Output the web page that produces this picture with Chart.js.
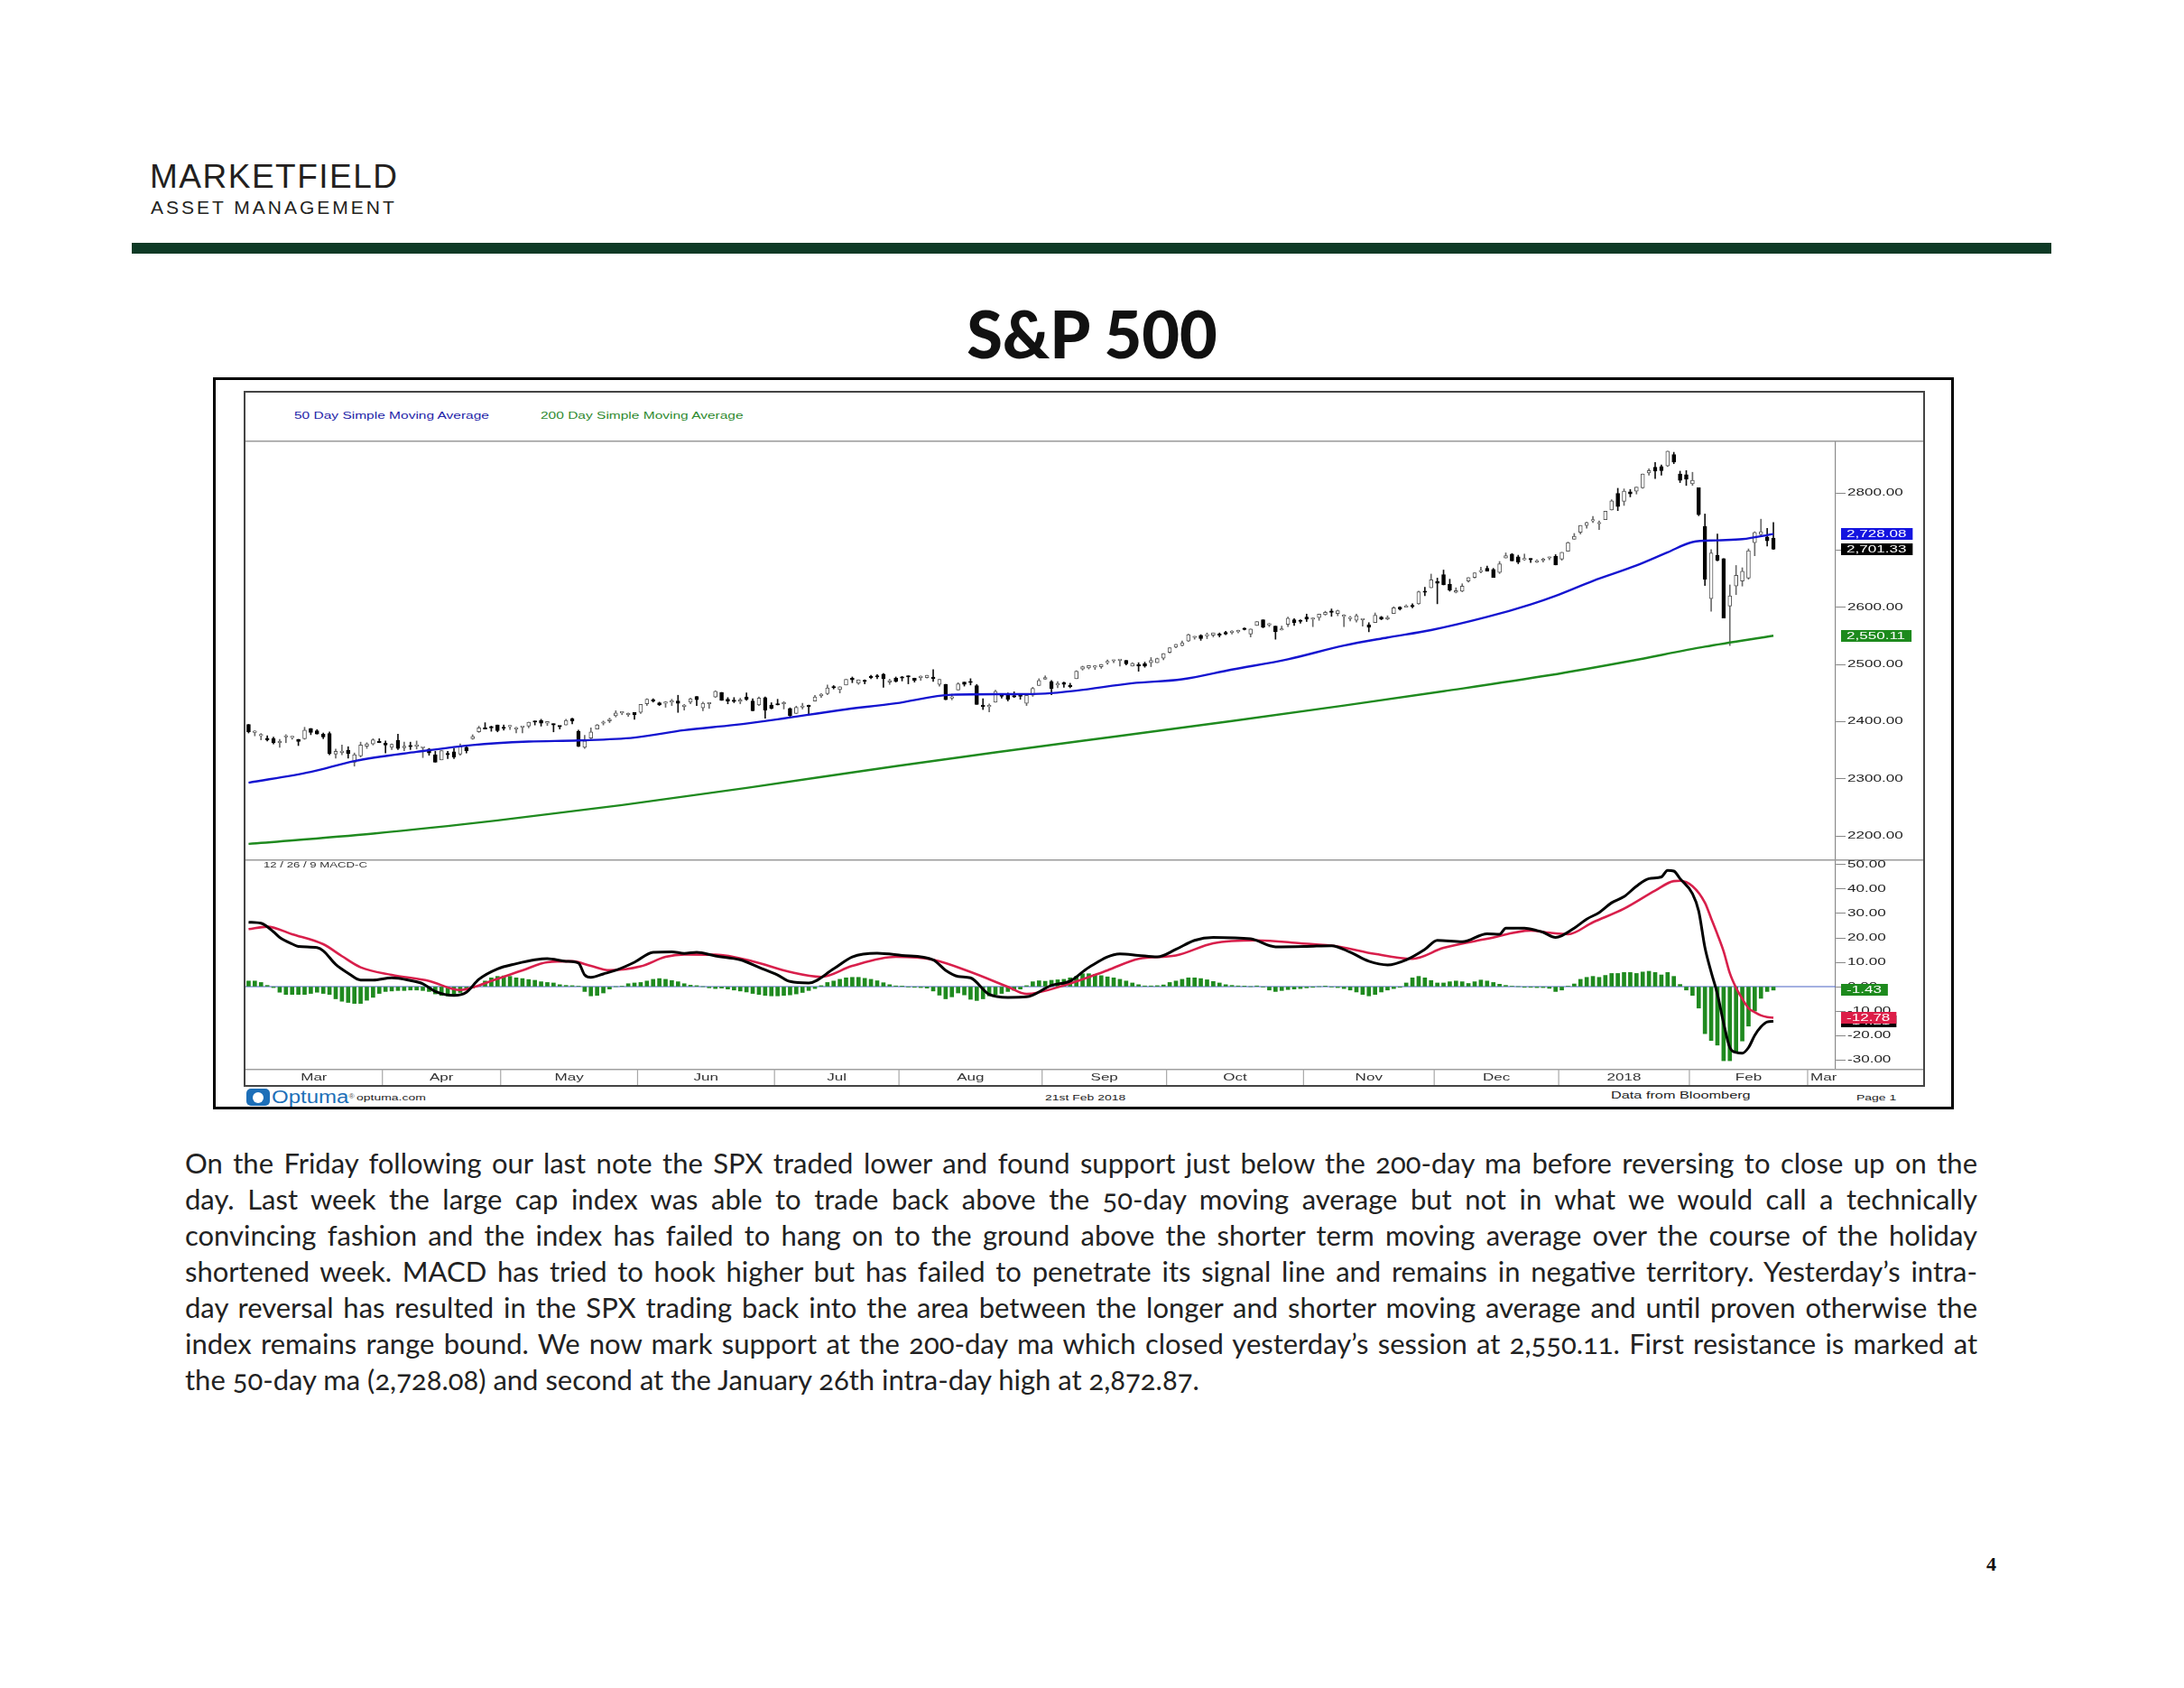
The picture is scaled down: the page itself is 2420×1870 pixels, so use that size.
<!DOCTYPE html>
<html>
<head>
<meta charset="utf-8">
<title>S&amp;P 500</title>
<script src="https://cdn.jsdelivr.net/npm/chart.js@4.4.1/dist/chart.umd.min.js"></script>
<style>
  html, body { margin: 0; padding: 0; background: #fff; }
  body { position: relative; width: 2420px; height: 1870px; overflow: hidden; font-family: 'Liberation Sans', Arial, sans-serif; color: #222; }
  .abs { position: absolute; }
  .stretch { transform-origin: 0 50%; transform: scaleX(1.55); white-space: nowrap; }
  #brand1 { left: 166px; top: 177px; font-size: 37px; line-height: 37px; letter-spacing: 1.5px; color: #231f20; }
  #brand2 { left: 167px; top: 219px; font-size: 21px; line-height: 21px; letter-spacing: 3px; color: #231f20; }
  #rule { left: 146px; top: 269px; width: 2127px; height: 12px; background: #0e3a26; }
  #title { left: 0; top: 333px; width: 2420px; text-align: center; font-family: Lato, sans-serif; font-weight: 900; font-size: 72px; line-height: 72px; color: #111; }
  #frame { left: 236px; top: 418px; width: 1923px; height: 805px; border: 3px solid #000; }
  #panel { left: 270px; top: 433px; width: 1859px; height: 767px; border: 2px solid #444; }
  .leg { top: 454px; height: 14px; font-size: 10px; line-height: 14px; }
  #leg1 { left: 326px; color: #2424a8; }
  #leg2 { left: 599px; color: #2f8a2f; }
  canvas { position: absolute; }
  #price { left: 272px; top: 488px; }
  #macd { left: 272px; top: 952px; }
  .foot { top: 1209px; height: 14px; line-height: 14px; color: #222; }
  #logoIcon { left: 273px; top: 1206px; width: 26px; height: 19px; background: #1d6fb8; border-radius: 5px; }
  #logoIcon div { position: absolute; left: 7px; top: 4px; width: 12px; height: 12px; border-radius: 50%; background: #fff; }
  #logoText { left: 301px; top: 1204px; height: 22px; font-size: 20px; line-height: 22px; color: #1d6fb8; transform: scaleX(1.2); transform-origin: 0 50%; white-space: nowrap; }
  #logoText span { font-size: 7px; vertical-align: top; color: #555; }
  #para { left: 205px; top: 1268px; width: 1986px; font-family: Lato, sans-serif; font-size: 31px; line-height: 40px; color: #222; font-variant-numeric: oldstyle-nums; }
  .ln { text-align: justify; text-align-last: justify; height: 40px; }
  .ln.end { text-align-last: left; }
  #pnum { left: 2201px; top: 1720px; font-family: 'Liberation Serif', serif; font-weight: bold; font-size: 22px; line-height: 26px; color: #111; }
</style>
</head>
<body>
<div id="brand1" class="abs">MARKETFIELD</div>
<div id="brand2" class="abs">ASSET MANAGEMENT</div>
<div id="rule" class="abs"></div>
<div id="title" class="abs">S&amp;P 500</div>

<div id="frame" class="abs"></div>
<div id="panel" class="abs"></div>
<div id="leg1" class="abs leg stretch">50 Day Simple Moving Average</div>
<div id="leg2" class="abs leg stretch">200 Day Simple Moving Average</div>
<canvas id="price" width="1859" height="464"></canvas>
<canvas id="macd" width="1859" height="250"></canvas>

<div id="logoIcon" class="abs"><div></div></div>
<div id="logoText" class="abs">Optuma<span>®</span></div>
<div class="abs foot stretch" style="left:395px;font-size:9px;">optuma.com</div>
<div class="abs foot stretch" style="left:1158px;font-size:9px;">21st Feb 2018</div>
<div class="abs foot stretch" style="left:1785px;top:1206px;font-size:10.5px;">Data from Bloomberg</div>
<div class="abs foot stretch" style="left:2057px;font-size:9px;">Page 1</div>

<div id="para" class="abs">
  <div class="ln">On the Friday following our last note the SPX traded lower and found support just below the 200-day ma before reversing to close up on the</div>
  <div class="ln">day. Last week the large cap index was able to trade back above the 50-day moving average but not in what we would call a technically</div>
  <div class="ln">convincing fashion and the index has failed to hang on to the ground above the shorter term moving average over the course of the holiday</div>
  <div class="ln">shortened week. MACD has tried to hook higher but has failed to penetrate its signal line and remains in negative territory. Yesterday’s intra-</div>
  <div class="ln">day reversal has resulted in the SPX trading back into the area between the longer and shorter moving average and until proven otherwise the</div>
  <div class="ln">index remains range bound. We now mark support at the 200-day ma which closed yesterday’s session at 2,550.11. First resistance is marked at</div>
  <div class="ln end">the 50-day ma (2,728.08) and second at the January 26th intra-day high at 2,872.87.</div>
</div>
<div id="pnum" class="abs">4</div>

<script>
// x = trading day index, 0 = 2 Mar 2017 ... 245 = 21 Feb 2018
const monthLabels = ['Mar', 'Apr', 'May', 'Jun', 'Jul', 'Aug', 'Sep', 'Oct', 'Nov', 'Dec', '2018', 'Feb', 'Mar'];
const monthStarts = [0, 22, 41, 63, 85, 105, 128, 148, 170, 191, 211, 232, 251];

const priceTicks = [2200, 2300, 2400, 2500, 2600, 2700, 2800, 2900];
const macdTicks = [-30, -20, -10, 0, 10, 20, 30, 40, 50];

// daily candles, one row per month
const opens = [
  2395,2381,2375,2371,2370,2363,2373,2372,2369,2370,2388,2384,2378,2379,2343,2346,2350,2329,2340,2357,2361,2365,
  2362,2355,2367,2354,2357,2357,2354,2352,2342,2333,2343,2347,2343,2355,2370,2382,2389,2390,2394,
  2389,2391,2387,2390,2392,2400,2402,2397,2395,2392,2394,2405,2383,2355,2371,2387,2397,2401,2410,2415,2412,2416,
  2416,2431,2438,2433,2432,2434,2436,2426,2434,2444,2424,2431,2443,2451,2439,2437,2435,2443,2436,2429,2442,2429,
  2431,2431,2423,2414,2425,2427,2436,2445,2449,2460,2456,2464,2476,2467,2472,2478,2480,2483,2469,2476,
  2477,2480,2476,2477,2477,2478,2465,2465,2441,2455,2469,2470,2463,2428,2426,2434,2445,2448,2445,2447,2432,2446,2463,
  2474,2470,2464,2468,2462,2475,2492,2494,2495,2496,2503,2506,2507,2507,2497,2499,2501,2503,2503,2511,
  2521,2530,2533,2541,2547,2551,2550,2551,2553,2556,2556,2557,2563,2553,2568,2578,2569,2567,2560,2570,2578,2576,
  2583,2579,2582,2587,2592,2589,2584,2580,2577,2578,2569,2573,2583,2579,2589,2600,2600,2603,2606,2628,2634,
  2645,2657,2640,2626,2628,2646,2652,2662,2668,2666,2661,2686,2693,2688,2683,2684,2679,2682,2686,2689,
  2684,2698,2719,2731,2743,2751,2746,2753,2770,2799,2785,2802,2803,2809,2835,2845,2846,2847,2867,2833,2832,
  2816,2809,2741,2615,2691,2685,2602,2637,2646,2651,2713,2727,2723,2721
];
const highs = [
  2395,2384,2379,2375,2373,2369,2377,2374,2369,2390,2388,2386,2380,2382,2352,2359,2356,2345,2364,2363,2370,2370,
  2366,2361,2378,2364,2364,2366,2355,2353,2348,2349,2348,2353,2361,2356,2377,2392,2398,2392,2394,
  2394,2393,2390,2391,2399,2401,2404,2400,2396,2392,2404,2406,2385,2376,2389,2395,2401,2406,2419,2417,2415,2416,
  2430,2440,2440,2434,2435,2439,2446,2430,2441,2444,2434,2433,2454,2451,2442,2442,2441,2450,2440,2443,2443,2433,
  2439,2435,2424,2427,2432,2429,2446,2449,2464,2463,2461,2474,2478,2473,2473,2481,2482,2484,2474,2478,
  2479,2480,2476,2480,2481,2491,2474,2465,2448,2468,2469,2475,2465,2440,2431,2455,2449,2450,2452,2449,2449,2460,2475,
  2480,2472,2470,2469,2467,2489,2497,2498,2498,2500,2508,2508,2509,2507,2503,2503,2504,2512,2511,2519,
  2529,2535,2541,2553,2549,2552,2555,2555,2555,2558,2559,2560,2564,2562,2575,2578,2572,2567,2567,2583,2580,2578,
  2588,2581,2588,2593,2597,2595,2587,2584,2588,2580,2573,2590,2584,2585,2601,2601,2604,2606,2628,2635,2658,
  2651,2665,2649,2634,2641,2652,2660,2670,2672,2668,2680,2695,2694,2691,2693,2685,2683,2686,2688,2692,
  2696,2714,2729,2743,2749,2759,2751,2768,2788,2808,2807,2806,2810,2833,2842,2853,2849,2873,2871,2838,2839,
  2836,2809,2763,2701,2728,2685,2639,2673,2669,2702,2732,2754,2738,2748
];
const lows = [
  2380,2375,2368,2366,2361,2355,2363,2369,2358,2369,2377,2378,2370,2342,2336,2342,2336,2322,2338,2353,2359,2363,
  2345,2351,2351,2349,2351,2352,2337,2341,2329,2333,2335,2335,2341,2345,2369,2381,2387,2383,2382,
  2385,2386,2380,2380,2389,2394,2392,2393,2382,2387,2394,2396,2356,2353,2370,2387,2394,2398,2408,2412,2409,2404,
  2414,2428,2434,2428,2425,2428,2416,2420,2431,2428,2419,2423,2442,2437,2431,2433,2431,2437,2419,2428,2406,2422,
  2429,2422,2408,2414,2422,2413,2436,2442,2447,2457,2450,2464,2468,2465,2466,2475,2475,2460,2465,2469,
  2471,2466,2469,2472,2476,2470,2462,2438,2438,2455,2462,2464,2430,2421,2417,2434,2441,2436,2442,2439,2428,2444,2463,
  2474,2447,2459,2460,2459,2475,2490,2492,2491,2493,2500,2503,2497,2499,2497,2488,2495,2496,2503,2508,
  2520,2529,2532,2540,2544,2542,2545,2548,2548,2552,2553,2555,2560,2548,2568,2564,2566,2544,2560,2566,2568,2572,
  2575,2566,2577,2586,2584,2585,2566,2576,2574,2567,2557,2573,2578,2578,2589,2595,2600,2599,2605,2620,2634,
  2606,2639,2628,2625,2627,2644,2651,2660,2663,2652,2659,2686,2681,2676,2682,2678,2678,2679,2683,2674,
  2682,2698,2719,2728,2738,2748,2736,2753,2770,2769,2778,2793,2798,2808,2831,2825,2831,2846,2851,2818,2813,
  2813,2760,2638,2593,2681,2581,2533,2622,2637,2649,2690,2725,2707,2701
];
const closes = [
  2382,2383,2375,2368,2363,2365,2373,2373,2365,2385,2381,2378,2373,2344,2348,2346,2344,2342,2359,2361,2368,2363,
  2359,2360,2353,2357,2356,2357,2354,2345,2329,2349,2342,2338,2356,2349,2374,2389,2387,2389,2384,
  2388,2391,2388,2390,2399,2399,2397,2400,2394,2391,2402,2401,2357,2366,2382,2394,2398,2404,2415,2416,2413,2412,
  2430,2439,2436,2429,2433,2434,2432,2429,2440,2438,2432,2433,2453,2437,2436,2435,2438,2439,2419,2441,2420,2423,
  2429,2433,2410,2425,2427,2426,2443,2448,2459,2459,2461,2474,2473,2473,2470,2477,2478,2475,2472,2470,
  2476,2478,2472,2477,2481,2475,2474,2438,2441,2466,2465,2468,2430,2426,2428,2453,2444,2439,2443,2444,2446,2458,2472,
  2477,2458,2466,2465,2461,2488,2496,2498,2496,2500,2504,2507,2508,2501,2502,2497,2497,2507,2510,2519,
  2529,2535,2538,2552,2549,2545,2551,2555,2551,2553,2558,2559,2561,2562,2575,2565,2569,2557,2560,2581,2573,2575,
  2579,2580,2588,2591,2591,2594,2585,2582,2585,2579,2565,2586,2579,2582,2599,2597,2602,2601,2627,2626,2648,
  2642,2639,2630,2629,2637,2652,2660,2664,2663,2652,2676,2690,2681,2679,2685,2683,2681,2683,2688,2674,
  2696,2713,2724,2743,2748,2751,2748,2768,2786,2776,2803,2798,2810,2833,2839,2838,2839,2873,2854,2822,2824,
  2822,2762,2649,2695,2682,2581,2620,2656,2663,2699,2731,2732,2716,2701.33
];

// moving averages at selected days
const ma50Days = [0, 10, 17, 27, 36, 45, 53, 62, 70, 78, 85, 95, 104, 113, 122, 128, 133, 142, 150, 158, 167, 176, 183, 190, 199, 206, 210, 216, 223, 228, 232, 236, 240, 245];
const ma50Values = [2293, 2312, 2331, 2347, 2359, 2365, 2367, 2372, 2385, 2394, 2404, 2420, 2432, 2447, 2448, 2449, 2454, 2467, 2474, 2491, 2509, 2533, 2547, 2560, 2583, 2605, 2620, 2646, 2673, 2696, 2714, 2717, 2719, 2728.08];
const ma200Days = [0, 20, 40, 60, 80, 104, 120, 140, 158, 176, 192, 209, 222, 234, 245];
const ma200Values = [2186, 2204, 2227, 2254, 2284, 2322, 2346, 2375, 2401, 2428, 2453, 2481, 2506, 2531, 2550.11];

// MACD 12/26/9
const macdDays = [0,2,4,5,7,8,11,12,14,16,18,20,23,26,28,30,33,35,37,40,43,46,48,51,53,54,55,57,59,62,65,68,70,72,75,79,82,85,87,90,94,97,101,105,110,112,114,116,119,122,125,129,132,135,140,143,146,149,152,155,161,165,170,174,177,180,183,186,189,191,195,199,201,202,205,207,208,210,211,213,215,217,219,221,223,225,227,228,229,230,232,233,234,235,236,237,238,239,240,241,242,243,244,245];
const macdValues = [26.4,26.0,22.5,20.2,17.5,16.5,16.0,14.7,9.1,5.5,2.7,2.7,3.6,2.5,1.2,-2.0,-3.6,-2.3,3.0,7.3,9.4,11.0,11.5,10.4,9.7,4.8,3.8,5.2,6.7,10.0,14.1,14.3,13.6,14.1,12.6,11.0,7.9,4.8,2.1,1.5,7.3,12.2,13.7,12.8,11.0,6.7,4.2,3.6,-3.2,-4.4,-4.2,0.5,2.3,7.9,13.4,12.8,12.2,15.3,19.0,20.2,19.6,16.3,16.5,16.8,14.1,10.4,8.9,11.0,15.3,19.0,18.4,21.7,21.5,24.0,24.0,23.0,22.3,20.2,20.9,24.0,27.7,30.4,34.4,36.9,41.2,44.3,45.0,47.7,47.4,44.3,38.1,31.0,16.0,6.0,-3.0,-15.0,-25.0,-27.0,-27.3,-25.0,-20.0,-16.5,-14.5,-14.21];
const signalDays = [0,3,7,12,15,18,23,29,34,37,39,44,48,52,55,58,63,67,70,75,81,87,92,97,104,110,116,122,125,131,138,143,149,155,162,169,175,181,187,192,199,206,209,212,216,221,226,229,230,232,234,235,236,237,238,239,240,241,242,243,244,245];
const signalValues = [23.6,24.6,21.5,17.4,12.5,7.9,4.8,2.3,-1.4,0.5,2.3,6.7,10.0,10.4,8.5,6.7,8.3,12.2,13.2,13.1,10.4,6.0,4.0,8.5,12.2,11.0,6.0,-0.1,-3.0,0.5,6.7,11.4,12.8,17.8,19.0,17.8,16.5,13.4,11.4,15.9,19.6,23.0,22.1,21.5,26.4,32.0,39.4,43.3,43.4,41.2,34.4,28.0,21.5,14.5,5.5,-0.5,-5.0,-8.8,-10.5,-11.8,-12.5,-12.78];
const histValues = [
  2.3,2.3,1.7,0.5,-0.4,-2.3,-3.2,-3.2,-3.2,-3.2,
  -2.8,-2.3,-2.8,-3.2,-5.0,-6.0,-6.5,-6.9,-6.9,-5.6,
  -4.4,-2.8,-2.0,-1.8,-1.6,-1.6,-1.4,-1.4,-1.6,-2.0,
  -3.0,-3.6,-3.8,-3.2,-2.4,-1.4,-0.6,0.2,2.3,3.6,
  4.2,4.4,4.2,3.6,3.3,2.9,2.6,2.0,1.7,1.5,
  0.8,0.5,0.4,0.2,-2.0,-3.8,-3.6,-2.6,-1.0,0.0,
  0.2,1.2,1.5,1.7,2.3,3.0,3.3,3.0,2.5,2.0,
  1.2,0.6,0.4,0.0,-0.5,-0.8,-0.6,-1.0,-1.4,-1.8,
  -2.2,-2.8,-3.2,-3.6,-3.8,-3.8,-3.6,-3.4,-3.0,-2.4,
  -1.6,-0.8,0.4,1.7,2.3,3.0,3.6,3.8,3.8,3.4,
  3.0,2.4,1.6,0.8,0.3,0.1,-0.2,-0.3,-0.4,-0.6,
  -1.8,-3.5,-5.0,-4.2,-2.6,-3.4,-5.2,-5.7,-5.0,-3.8,
  -3.2,-2.8,-2.0,-1.5,-1.0,0.4,2.0,2.4,2.2,2.6,
  2.8,3.0,3.6,4.2,5.3,5.3,5.0,4.5,4.0,3.6,
  3.0,2.3,1.5,0.8,0.3,0.3,0.4,0.7,1.7,2.3,
  3.0,3.6,3.6,3.3,2.8,2.1,1.5,0.8,0.5,0.3,
  0.1,0.0,0.3,-0.2,-1.4,-2.0,-1.6,-1.2,-1.0,-0.8,
  -0.5,-0.3,0.0,0.1,-0.2,-0.4,-0.8,-1.4,-2.2,-3.2,
  -3.8,-3.2,-2.2,-1.4,-0.8,-0.3,1.5,3.6,4.2,3.6,
  2.5,1.5,1.5,2.0,2.3,2.0,1.3,2.0,2.7,2.3,
  1.7,1.0,0.5,0.2,0.0,-0.3,-0.3,-0.4,-0.4,-0.7,
  -2.0,-1.4,0.2,1.1,3.0,3.8,4.2,3.8,4.6,5.4,
  5.4,5.8,5.8,5.4,6.0,6.3,5.8,4.8,5.8,4.2,
  0.9,-1.4,-3.6,-8.8,-19.3,-22.1,-24.0,-30.4,-30.4,-26.7,
  -22.3,-16.2,-10.0,-4.8,-2.0,-1.43
];

// the chart image is stretched sideways, so is its lettering
const SX = 1.55;
const FONT = '"Liberation Sans", Arial, sans-serif';

function drawText(ctx, text, x, y, size, color, align) {
  ctx.save();
  ctx.font = size + 'px ' + FONT;
  ctx.fillStyle = color;
  ctx.textAlign = align;
  ctx.textBaseline = 'middle';
  ctx.translate(x, y);
  ctx.scale(SX, 1);
  ctx.fillText(text, 0, 0);
  ctx.restore();
}

function fmt(v) {
  return v.toLocaleString('en-US', { minimumFractionDigits: 2, maximumFractionDigits: 2 });
}

function drawTag(ctx, x, y, text, bg) {
  ctx.save();
  ctx.font = '11px ' + FONT;
  const w = ctx.measureText(text).width * SX + 13;
  ctx.fillStyle = bg;
  ctx.fillRect(x, Math.round(y - 6.5), w, 13);
  ctx.restore();
  drawText(ctx, text, x + 6, y + 0.5, 11, '#fff', 'left');
}

function points(days, values) {
  return days.map((d, i) => ({ x: d, y: values[i] }));
}

function hline(ctx, y, x1, x2, color, width) {
  ctx.save();
  ctx.strokeStyle = color;
  ctx.lineWidth = width;
  ctx.beginPath();
  ctx.moveTo(x1, y);
  ctx.lineTo(x2, y);
  ctx.stroke();
  ctx.restore();
}

const priceTags = [
  { value: ma50Values[ma50Values.length - 1], color: '#1414e0' },
  { value: closes[closes.length - 1], color: '#000' },
  { value: ma200Values[ma200Values.length - 1], color: '#1d8a1d' }
];
const macdTags = [
  { value: histValues[histValues.length - 1], color: '#1d8a1d' },
  { value: macdValues[macdValues.length - 1], color: '#000' },
  { value: signalValues[signalValues.length - 1], color: '#dc1e48' }
];

const priceAxis = {
  id: 'priceAxis',
  afterDraw(chart) {
    const { ctx, chartArea, scales: { y } } = chart;
    hline(ctx, 0.75, 0, chart.width, '#9a9a9a', 1.5);
    y.ticks.forEach(t => drawText(ctx, t.value.toFixed(2), chartArea.right + 13, y.getPixelForValue(t.value), 11, '#222', 'left'));
    priceTags.forEach(t => drawTag(ctx, chartArea.right + 6, y.getPixelForValue(t.value), fmt(t.value), t.color));
  }
};

const macdPane = {
  id: 'macdPane',
  beforeDatasetsDraw(chart) {
    const { ctx, chartArea, scales: { y } } = chart;
    hline(ctx, y.getPixelForValue(0), chartArea.left, chartArea.right, '#4a62c4', 1.2);
  },
  afterDraw(chart) {
    const { ctx, chartArea, scales: { x, y } } = chart;
    hline(ctx, 0.75, 0, chart.width, '#9a9a9a', 1.5);
    drawText(ctx, '12 / 26 / 9 MACD-C', 20, 7, 8.5, '#333', 'left');
    y.ticks.forEach(t => drawText(ctx, t.value.toFixed(2), chartArea.right + 13, y.getPixelForValue(t.value), 11, '#222', 'left'));
    macdTags.forEach(t => drawTag(ctx, chartArea.right + 6, y.getPixelForValue(t.value), fmt(t.value), t.color));

    // month strip under the panes
    const top = chartArea.bottom;
    hline(ctx, top + 0.75, 0, chart.width, '#a0a0a0', 1.5);
    ctx.save();
    ctx.strokeStyle = '#a8a8a8';
    ctx.lineWidth = 1.2;
    monthStarts.forEach((s, k) => {
      const left = x.getPixelForValue(s - 0.5);
      if (k > 0) {
        ctx.beginPath();
        ctx.moveTo(left, top);
        ctx.lineTo(left, chart.height);
        ctx.stroke();
      }
      if (k + 1 < monthStarts.length) {
        const right = x.getPixelForValue(monthStarts[k + 1] - 0.5);
        drawText(ctx, monthLabels[k], (left + right) / 2, top + 9.5, 11, '#333', 'center');
      } else {
        drawText(ctx, monthLabels[k], left + 3, top + 9.5, 11, '#333', 'left');
      }
    });
    ctx.restore();
  }
};

function yAxis(min, max, ticks) {
  return {
    position: 'right',
    min: min,
    max: max,
    afterBuildTicks: s => { s.ticks = ticks.map(v => ({ value: v })); },
    afterFit: s => { s.width = 97; },
    ticks: { display: false },
    grid: { drawOnChartArea: false, drawTicks: true, tickLength: 11, color: '#888', lineWidth: 1 },
    border: { display: true, color: '#8a8a8a', width: 1.2 }
  };
}

const common = {
  responsive: false,
  maintainAspectRatio: false,
  animation: false,
  events: [],
  plugins: { legend: { display: false }, tooltip: { enabled: false } }
};

new Chart(document.getElementById('price'), {
  type: 'bar',
  data: {
    datasets: [
      {
        type: 'line', label: '50 Day Simple Moving Average',
        data: points(ma50Days, ma50Values),
        borderColor: '#1414d0', borderWidth: 2.4, pointRadius: 0,
        cubicInterpolationMode: 'monotone', order: 1
      },
      {
        type: 'line', label: '200 Day Simple Moving Average',
        data: points(ma200Days, ma200Values),
        borderColor: '#1f8a1f', borderWidth: 2.4, pointRadius: 0,
        cubicInterpolationMode: 'monotone', order: 1
      },
      {
        label: 'range',
        data: closes.map((c, i) => ({ x: i, y: [lows[i], highs[i]] })),
        backgroundColor: closes.map((c, i) => c < opens[i] ? '#111' : '#6a6a6a'),
        barThickness: 1, grouped: false, order: 3
      },
      {
        label: 'body',
        data: closes.map((c, i) => ({ x: i, y: [opens[i], c] })),
        backgroundColor: closes.map((c, i) => c < opens[i] ? '#000' : '#fff'),
        borderColor: closes.map((c, i) => c < opens[i] ? '#000' : '#555'),
        borderWidth: 1, borderSkipped: false, minBarLength: 1.5,
        barThickness: 4, grouped: false, order: 2
      }
    ]
  },
  options: Object.assign({}, common, {
    layout: { padding: 0 },
    scales: {
      x: { type: 'linear', min: -0.5, max: 255, display: false, offset: false },
      y: yAxis(2159, 2891.6, priceTicks)
    }
  }),
  plugins: [priceAxis]
});

new Chart(document.getElementById('macd'), {
  type: 'bar',
  data: {
    datasets: [
      {
        type: 'line', label: 'MACD',
        data: points(macdDays, macdValues),
        borderColor: '#000', borderWidth: 3, pointRadius: 0,
        cubicInterpolationMode: 'monotone', order: 1
      },
      {
        type: 'line', label: 'Signal',
        data: points(signalDays, signalValues),
        borderColor: '#d81f4b', borderWidth: 2.6, pointRadius: 0,
        cubicInterpolationMode: 'monotone', order: 1
      },
      {
        label: 'Histogram',
        data: histValues.map((v, i) => ({ x: i, y: v })),
        backgroundColor: '#1f8a1f',
        barThickness: 4, grouped: false, order: 2
      }
    ]
  },
  options: Object.assign({}, common, {
    layout: { padding: { top: 0, left: 0, right: 0, bottom: 18 } },
    scales: {
      x: { type: 'linear', min: -0.5, max: 255, display: false, offset: false },
      y: yAxis(-33.7, 52.22, macdTicks)
    }
  }),
  plugins: [macdPane]
});
</script>
</body>
</html>
